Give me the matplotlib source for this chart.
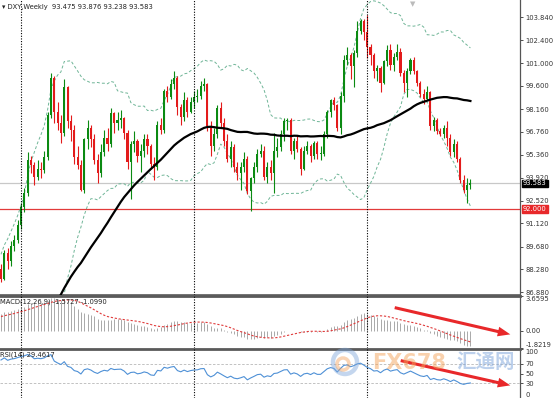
import numpy as np
import matplotlib
matplotlib.use("Agg")
from matplotlib import pyplot as plt
from matplotlib.patches import FancyArrowPatch, Circle
from matplotlib.transforms import IdentityTransform, blended_transform_factory

# weekly closes before the first visible bar (only feed the indicators)
prior_close = [80.3, 80.2, 80.5, 80.2, 80.7, 80.7, 81.2, 80.5, 81.3, 80.7,
               80.7, 80.2, 80.3, 79.7, 79.8, 79.5, 80.2, 80.2, 79.5, 79.9,
               79.9, 79.5, 80.0, 80.2, 80.4, 80.4, 80.6, 80.5, 80.4, 80.1,
               80.2, 80.1, 80.6, 81.0, 81.4, 81.4, 81.6, 82.3, 82.7, 83.9,
               84.3, 84.8, 85.6, 86.0, 85.9, 85.2, 85.7, 86.9, 87.6, 88.3]

# visible weekly bars
close = [87.7, 89.3, 88.8, 89.7, 90.1, 91.0, 92.1, 93.0, 95.0, 94.7,
         94.0, 94.5, 94.4, 95.2, 97.8, 100.1, 98.0, 97.3, 96.7, 99.5,
         97.4, 96.9, 95.2, 94.7, 93.2, 96.3, 97.0, 96.3, 95.0, 94.2,
         95.5, 96.4, 96.0, 97.9, 97.3, 97.5, 97.6, 96.7, 94.9, 96.0,
         96.2, 95.3, 95.6, 96.3, 95.9, 94.8, 94.6, 97.2, 96.9, 99.3,
         98.9, 99.7, 100.1, 98.3, 97.7, 98.7, 98.0, 98.6, 98.9, 99.0,
         99.6, 99.7, 97.1, 95.9, 96.6, 98.2, 97.3, 96.2, 95.1, 95.8,
         94.6, 94.2, 94.6, 95.1, 93.1, 93.9, 94.6, 95.4, 95.6, 94.0,
         94.6, 94.2, 95.6, 95.8, 96.6, 97.4, 97.5, 95.6, 96.2, 95.7,
         94.5, 95.6, 95.9, 95.3, 96.1, 95.4, 95.4, 96.6, 98.0, 98.7,
         98.4, 97.0, 99.0, 101.2, 101.5, 100.8, 101.6, 103.0, 103.6, 102.9,
         102.0, 101.5, 100.5, 100.7, 99.8, 101.1, 101.8, 100.9, 101.4, 101.7,
         100.4, 99.8, 100.5, 101.2, 100.5, 99.8, 99.1, 98.8, 99.2, 97.1,
         97.5, 96.8, 96.6, 97.0, 96.4, 95.5, 96.0, 95.1, 93.8, 93.2,
         93.475, 93.583]
high = [88.6, 89.5, 89.6, 90.0, 90.4, 91.3, 92.4, 93.3, 95.5, 95.3,
        94.9, 95.0, 94.9, 95.6, 98.0, 100.4, 100.2, 98.6, 97.8, 100.0,
        99.6, 97.8, 97.2, 95.9, 95.0, 96.4, 97.5, 97.2, 96.6, 95.4,
        96.0, 96.9, 97.0, 98.2, 98.0, 98.0, 98.1, 97.7, 96.9, 96.2,
        96.8, 96.3, 96.0, 96.6, 96.6, 96.0, 95.2, 97.4, 97.6, 99.4,
        99.6, 100.0, 100.5, 100.2, 98.5, 99.2, 98.9, 98.9, 99.3, 99.4,
        99.9, 100.1, 99.8, 97.4, 97.0, 98.4, 98.6, 97.6, 96.6, 96.2,
        96.0, 94.9, 94.9, 95.5, 95.3, 94.0, 94.9, 95.7, 96.0, 95.9,
        94.9, 95.0, 96.7, 96.4, 96.9, 97.6, 97.6, 97.6, 96.4, 96.5,
        95.8, 95.9, 96.2, 96.0, 96.2, 96.2, 95.9, 96.8, 98.1, 98.8,
        98.9, 98.5, 99.2, 101.5, 102.0, 101.6, 101.8, 103.6, 103.7, 103.7,
        103.95, 102.2, 101.6, 100.9, 100.8, 101.2, 102.1, 102.2, 101.6, 102.2,
        101.9, 100.6, 100.7, 101.3, 101.4, 100.6, 99.9, 99.4, 99.6, 99.3,
        97.7, 97.6, 97.0, 97.2, 97.4, 96.6, 96.3, 96.2, 95.2, 94.1,
        93.9, 93.876]
low = [87.5, 87.6, 88.3, 88.5, 89.4, 89.9, 90.8, 91.8, 92.8, 94.2,
       93.5, 93.8, 93.9, 94.2, 95.0, 97.6, 97.3, 96.9, 96.1, 96.5,
       97.0, 96.2, 94.8, 94.5, 93.1, 93.0, 95.7, 95.8, 94.8, 93.6,
       94.0, 95.3, 95.6, 95.8, 96.7, 96.9, 97.0, 96.3, 94.5, 92.6,
       95.5, 94.9, 94.3, 95.2, 95.4, 94.5, 93.8, 94.4, 96.6, 96.7,
       98.6, 98.8, 99.4, 97.8, 97.2, 97.4, 97.7, 97.9, 98.2, 98.6,
       98.8, 99.3, 96.8, 95.3, 95.6, 96.4, 97.0, 95.9, 94.9, 94.6,
       94.3, 93.8, 93.2, 94.3, 92.9, 91.9, 93.6, 94.3, 95.2, 93.8,
       93.6, 93.8, 93.0, 95.2, 95.6, 96.2, 96.9, 95.4, 95.1, 95.5,
       94.1, 94.4, 95.4, 94.9, 95.1, 95.1, 95.0, 95.3, 96.4, 97.7,
       98.1, 96.8, 96.6, 98.6, 100.9, 100.0, 99.5, 101.4, 102.8, 102.4,
       101.3, 100.9, 100.1, 99.9, 99.2, 99.7, 100.8, 100.6, 100.5, 101.2,
       100.2, 99.2, 98.9, 100.3, 100.3, 99.6, 98.9, 98.5, 98.7, 96.9,
       96.8, 96.6, 96.5, 96.4, 95.9, 95.3, 95.2, 94.9, 93.6, 93.0,
       92.4, 93.238]

bid = 93.583
support = 92.000
year_start_bars = [6, 58, 110]

price_ticks = [86.88, 88.28, 89.68, 91.12, 92.52, 93.92, 95.36, 96.76,
               98.16, 99.60, 101.00, 102.40, 103.84]
macd_ticks = [3.6595, 0.0, -1.8219]
macd_tick_labels = ["3.6595", "0.00", "-1.8219"]
rsi_ticks = [100, 70, 50, 30, 0]

title = "\u25be DXY,Weekly  93.475 93.876 93.238 93.583"
macd_title = "MACD(12,26,9) -1.5727 -1.0990"
rsi_title = "RSI(14) 29.4617"


def sma(a, n):
    out = np.full(len(a), np.nan)
    for i in range(n - 1, len(a)):
        out[i] = a[i - n + 1:i + 1].mean()
    return out


def ema(a, n):
    k = 2.0 / (n + 1)
    out = np.empty(len(a))
    out[0] = a[0]
    for i in range(1, len(a)):
        out[i] = a[i] * k + out[i - 1] * (1 - k)
    return out


def rsi(a, n):
    d = np.diff(a)
    up = np.where(d > 0, d, 0.0)
    dn = np.where(d < 0, -d, 0.0)
    out = np.full(len(a), np.nan)
    au = up[:n].mean()
    ad = dn[:n].mean()
    out[n] = 100 - 100 / (1 + au / ad)
    for i in range(n, len(d)):
        au = (au * (n - 1) + up[i]) / n
        ad = (ad * (n - 1) + dn[i]) / n
        out[i + 1] = 100 - 100 / (1 + au / ad)
    return out


full = np.array(prior_close + close)
k0 = len(prior_close)
c = np.array(close)
o = full[k0 - 1:-1]
h = np.array(high)
lo = np.array(low)
x = np.arange(len(c))

ma = sma(full, 50)[k0:]
mid = sma(full, 20)
sd = np.array([np.nan if i < 19 else full[i - 19:i + 1].std() for i in range(len(full))])
bb_up = (mid + 2 * sd)[k0:]
bb_dn = (mid - 2 * sd)[k0:]
macd_main = ema(full, 12) - ema(full, 26)
macd_sig = sma(macd_main, 9)[k0:]
macd_main = macd_main[k0:]
rsi14 = rsi(full, 14)[k0:]

W, H = 554, 398
fig = plt.figure(figsize=(W / 100, H / 100), dpi=100)
fig.patch.set_facecolor("white")
right = 520 / W


def panel(top_px, bot_px):
    return fig.add_axes([0, 1 - bot_px / H, right, (bot_px - top_px) / H])


ax = panel(0, 295)
axm = panel(296, 348)
axr = panel(349, 398)

up_col = "#0b8a12"
dn_col = "#e31b1b"
cols = [up_col if cc >= oo else dn_col for oo, cc in zip(o, c)]
ax.vlines(x, lo, h, colors=cols, lw=0.8, zorder=3)
body = np.maximum(np.abs(c - o), 0.04)
ax.bar(x, body, bottom=np.minimum(o, c), width=0.62, color=cols, lw=0, zorder=4)

bb_kw = dict(color="#6fb597", lw=0.7, dashes=(3, 2.2), zorder=2)
ax.plot(x, bb_up, **bb_kw)
ax.plot(x, bb_dn, **bb_kw)
ax.plot(x, ma, color="black", lw=1.6, zorder=5)
ax.axhline(bid, color="#c8c8c8", lw=0.9, zorder=1)
ax.axhline(support, color="#e23a3a", lw=0.9, zorder=1)

axm.vlines(x, 0, macd_main, colors="#a9a9a9", lw=0.7)
axm.plot(x, macd_sig, color="#e03b3b", lw=0.8, dashes=(2, 1.6))

axr.axhline(70, color="#b8b8b8", lw=0.6, dashes=(3, 2))
axr.axhline(30, color="#b8b8b8", lw=0.6, dashes=(3, 2))
axr.plot(x, rsi14, color="#4e90d6", lw=0.8)

for a in (ax, axm, axr):
    a.set_xlim(-0.3, 155.9)
    for b in year_start_bars:
        a.axvline(b, color="black", lw=0.8, dashes=(1, 1.4), zorder=6)
    a.set_facecolor("white")
    a.set_xticks([])
    a.yaxis.tick_right()
    a.tick_params(axis="y", direction="out", length=2.5, width=0.6,
                  labelsize=4.9, pad=1.5, colors="#333333")
    for s in ("left", "bottom"):
        a.spines[s].set_visible(False)
    a.spines["right"].set_color("#555555")
    a.spines["right"].set_linewidth(0.9)
    a.spines["top"].set_color("#5a5a5a")
    a.spines["top"].set_linewidth(2.0)
ax.spines["top"].set_visible(False)
ax.spines["bottom"].set_visible(True)
ax.spines["bottom"].set_color("#5a5a5a")
ax.spines["bottom"].set_linewidth(1.2)

ax.set_ylim(86.70, 104.89)
ax.set_yticks(price_ticks)
ax.set_yticklabels([f"{t:.3f}" for t in price_ticks])

axm.set_ylim(-1.8219, 3.6595)
axm.set_yticks(macd_ticks)
axm.set_yticklabels(macd_tick_labels)
tl = axm.get_yticklabels()
tl[0].set_va("top")
tl[2].set_va("bottom")

axr.set_ylim(0, 100)
axr.set_yticks(rsi_ticks)
tl = axr.get_yticklabels()
tl[0].set_va("top")
tl[-1].set_va("bottom")

tr = blended_transform_factory(ax.transAxes, ax.transData)
ax.text(1.006, bid, f"{bid:.3f}", transform=tr, fontsize=4.9, color="white",
        va="center", ha="left", zorder=10,
        bbox=dict(boxstyle="square,pad=0.12", fc="black", ec="black"))
ax.text(1.006, support, f"{support:.3f}", transform=tr, fontsize=4.9, color="white",
        va="center", ha="left", zorder=10,
        bbox=dict(boxstyle="square,pad=0.12", fc="#e8282a", ec="#e8282a"))

fig.text(2 / W, 1 - 7 / H, title, fontsize=4.9, color="#222222", va="center")
fig.text(0 / W, 1 - 302 / H, macd_title, fontsize=4.9, color="#222222", va="center")
fig.text(0 / W, 1 - 355 / H, rsi_title, fontsize=4.9, color="#222222", va="center")
fig.text(413 / W, 1 - 4 / H, "\u25bc", fontsize=5, color="#bbbbbb",
         ha="center", va="center")

# watermark
idt = IdentityTransform()
fig.add_artist(Circle((345, H - 362), 12, transform=idt, fill=False,
                      ec="#7ea6da", lw=3.2, alpha=0.45))
fig.add_artist(Circle((343, H - 364), 6, transform=idt, fill=False,
                      ec="#f3a05a", lw=2.5, alpha=0.45))
fig.text(372 / W, 1 - 363 / H, "FX678", fontsize=15, fontweight="bold",
         color="#f5a55c", alpha=0.5, va="center", ha="left")
fig.text(456 / W, 1 - 363 / H, "汇通网", fontsize=14, fontweight="bold",
         color="#7aa3da", alpha=0.5, va="center", ha="left",
         family=["Noto Sans CJK SC", "DejaVu Sans"])

# red arrows
for (x0, y0), (x1, y1) in [((392, 307), (513, 335)), ((398, 360), (513, 386))]:
    fig.add_artist(FancyArrowPatch((x0, H - y0), (x1, H - y1), transform=idt,
                                   arrowstyle="simple,head_length=9,head_width=7,tail_width=2.2",
                                   mutation_scale=1, color="#e8282a", lw=0))

fig.savefig("out.png", dpi=100)
